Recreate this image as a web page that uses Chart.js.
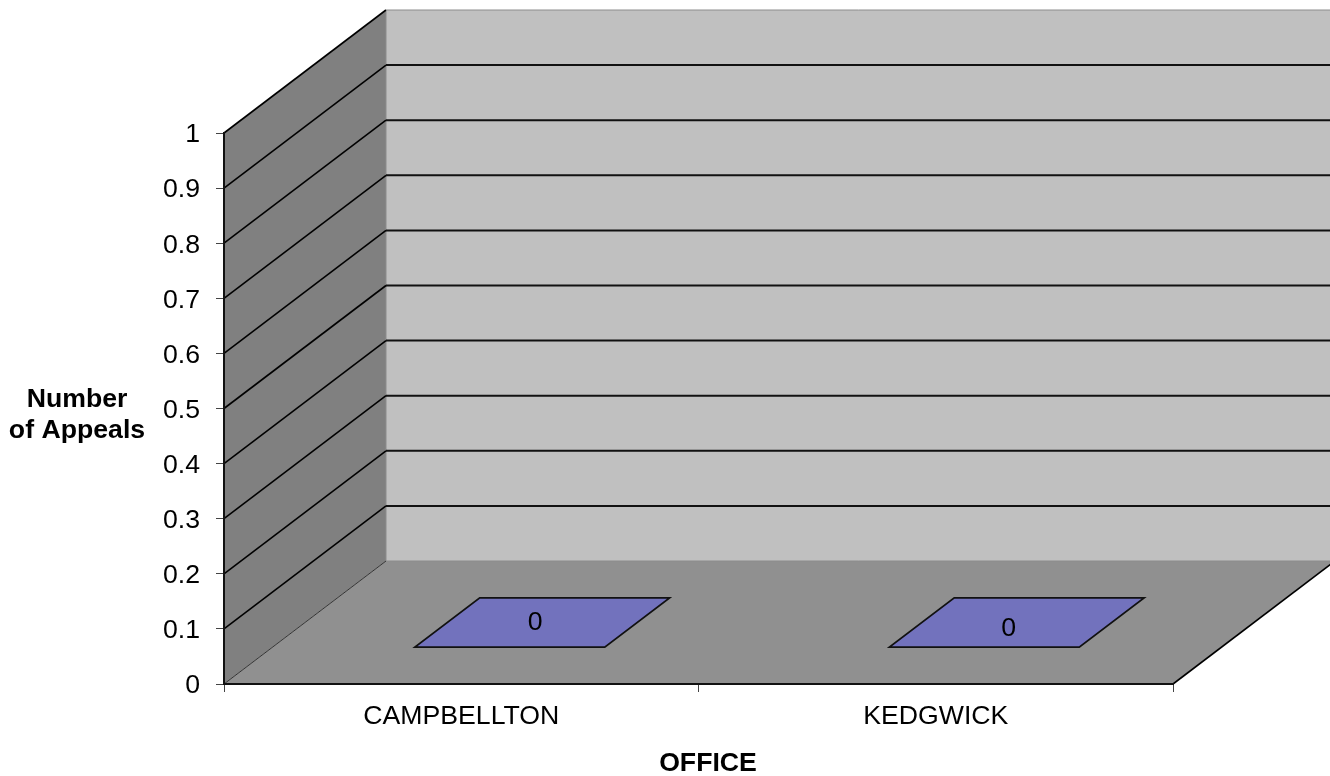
<!DOCTYPE html>
<html>
<head>
<meta charset="utf-8">
<style>
html,body{margin:0;padding:0;background:#fff;overflow:hidden}
#wrap{width:1330px;height:776px;position:relative}
</style>
<script src="https://cdn.jsdelivr.net/npm/chart.js@4/dist/chart.umd.min.js"></script>
</head>
<body>
<div id="wrap"><canvas id="c" width="1330" height="776"></canvas></div>
<script>
const categories = ["CAMPBELLTON", "KEDGWICK"];
const appeals = [0, 0];
const yTitleLines = ["Number", "of Appeals"];
const xTitle = "OFFICE";
const FONT = '"Liberation Sans", Arial, sans-serif';
const FONT_SIZE = 26.67;

const depthX = 162, depthY = 123;
const barFront = 0.30, barBack = 0.70;
const labelNudge = [[-7, 0], [-8, 6]];

const chart3d = {
  id: 'chart3d',
  beforeDraw(chart) {
    const { ctx, chartArea: a, scales: { x, y } } = chart;
    const poly = (pts, fill) => {
      ctx.beginPath();
      pts.forEach((p, i) => i ? ctx.lineTo(p[0], p[1]) : ctx.moveTo(p[0], p[1]));
      ctx.closePath();
      ctx.fillStyle = fill;
      ctx.fill();
    };
    const line = (x0, y0, x1, y1, color, w) => {
      ctx.beginPath();
      ctx.moveTo(x0, y0); ctx.lineTo(x1, y1);
      ctx.strokeStyle = color; ctx.lineWidth = w;
      ctx.stroke();
    };
    ctx.save();
    const bx = a.left + depthX, brx = a.right + depthX;
    poly([[bx, a.top - depthY], [brx, a.top - depthY], [brx, a.bottom - depthY], [bx, a.bottom - depthY]], '#c0c0c0');
    poly([[a.left, a.top], [bx, a.top - depthY], [bx, a.bottom - depthY], [a.left, a.bottom]], '#808080');
    poly([[a.left, a.bottom], [a.right, a.bottom], [brx, a.bottom - depthY], [bx, a.bottom - depthY]], '#909090');
    line(bx, a.top - depthY, bx, a.bottom - depthY, '#8c8c8c', 1);
    y.ticks.forEach((t, i) => {
      const py = y.getPixelForTick(i);
      const isEdge = t.value === 0 || t.value === 1;
      line(a.left, py, bx, py - depthY, t.value === 0 ? '#333' : '#000', t.value === 0 ? 1 : 1.6);
      line(bx, py - depthY, brx, py - depthY, isEdge ? '#8c8c8c' : '#111', isEdge ? 1 : 2);
    });
    line(a.right, a.bottom, brx, a.bottom - depthY, '#000', 1.6);
    ctx.restore();
  },
  afterDatasetsDraw(chart) {
    const { ctx } = chart;
    const meta = chart.getDatasetMeta(0);
    ctx.save();
    meta.data.forEach((el, i) => {
      const hw = el.width / 2, base = el.base;
      const fx = barFront * depthX, fy = barFront * depthY;
      const kx = barBack * depthX, ky = barBack * depthY;
      ctx.beginPath();
      ctx.moveTo(el.x - hw + fx, base - fy);
      ctx.lineTo(el.x + hw + fx, base - fy);
      ctx.lineTo(el.x + hw + kx, base - ky);
      ctx.lineTo(el.x - hw + kx, base - ky);
      ctx.closePath();
      ctx.fillStyle = '#7272bd';
      ctx.fill();
      ctx.strokeStyle = '#111';
      ctx.lineWidth = 1.8;
      ctx.stroke();
      const mid = (barFront + barBack) / 2;
      ctx.fillStyle = '#000';
      ctx.font = FONT_SIZE + 'px ' + FONT;
      ctx.textAlign = 'center';
      ctx.textBaseline = 'middle';
      ctx.fillText(String(chart.data.datasets[0].data[i]), el.x + mid * depthX + labelNudge[i][0], base - mid * depthY + labelNudge[i][1]);
    });
    ctx.fillStyle = '#000';
    ctx.font = 'bold ' + FONT_SIZE + 'px ' + FONT;
    ctx.textAlign = 'center';
    ctx.textBaseline = 'middle';
    yTitleLines.forEach((s, i) => ctx.fillText(s, 77, 400 + i * 31));
    ctx.fillText(xTitle, 708, 764);
    ctx.restore();
  }
};

new Chart(document.getElementById('c'), {
  type: 'bar',
  plugins: [chart3d],
  data: {
    labels: categories,
    datasets: [{ label: 'Number of Appeals', data: appeals, backgroundColor: '#7272bd', borderWidth: 0,
                 categoryPercentage: 1, barPercentage: 0.4 }]
  },
  options: {
    responsive: false,
    animation: false,
    layout: { padding: { top: 133, right: 157, left: 0, bottom: 0 } },
    plugins: { legend: { display: false }, tooltip: { enabled: false } },
    scales: {
      x: {
        afterFit(s) { s.height = 92; },
        grid: { drawOnChartArea: false, tickLength: 8, tickColor: '#444', tickWidth: 1 },
        border: { color: '#111', width: 2 },
        ticks: { color: '#000', font: { family: FONT, size: FONT_SIZE }, padding: 9, maxRotation: 0 }
      },
      y: {
        min: 0, max: 1,
        afterFit(s) { s.width = 224; },
        grid: { drawOnChartArea: false, tickLength: 8, tickColor: '#444', tickWidth: 1 },
        border: { color: '#111', width: 2 },
        ticks: { stepSize: 0.1, color: '#000', font: { family: FONT, size: FONT_SIZE }, padding: 16, labelOffset: 2,
                 callback: v => String(Math.round(v * 10) / 10) }
      }
    }
  }
});
</script>
</body>
</html>
